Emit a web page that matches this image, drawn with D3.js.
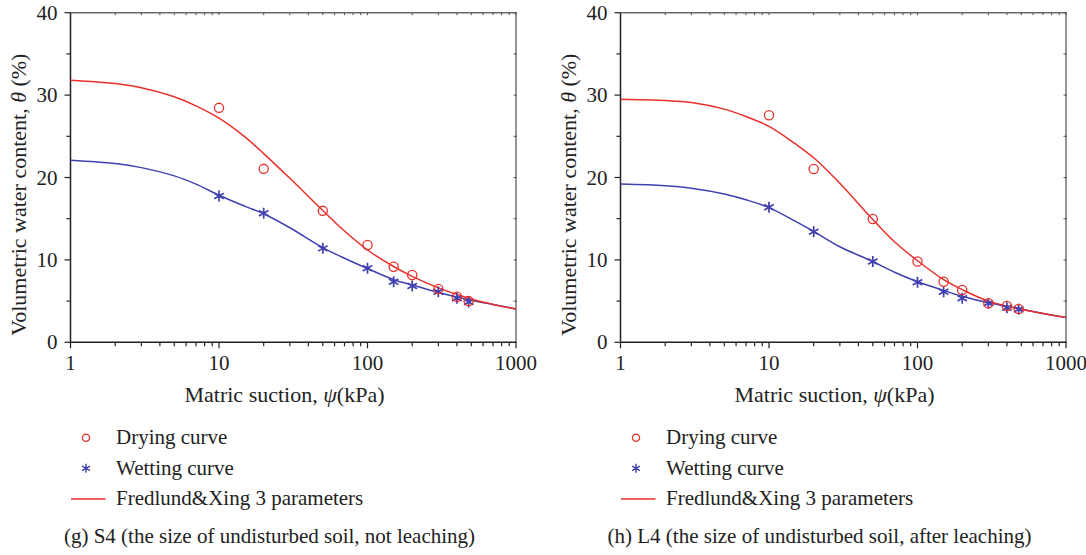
<!DOCTYPE html>
<html>
<head>
<meta charset="utf-8">
<script src="https://cdn.jsdelivr.net/npm/d3@7"></script>
<style>
  body { margin: 0; background: #fff; }
  svg { display: block; font-family: "Liberation Serif", "DejaVu Serif", serif; }
</style>
</head>
<body>
<div id="graph"></div>
<script>
// measured suction values (kPa)
var suction = [10, 20, 50, 100, 150, 200, 300, 400, 480];

// S4, not leaching
var dryS4 = [28.45, 21.05, 15.95, 11.8, 9.17, 8.17, 6.47, 5.53, 5.0];
var wetS4 = [17.75, 15.65, 11.4, 8.98, 7.35, 6.83, 6.14, 5.34, 4.9];

// L4, after leaching
var dryL4 = [27.55, 21.03, 14.96, 9.8, 7.35, 6.35, 4.73, 4.4, 4.04];
var wetL4 = [16.38, 13.42, 9.8, 7.28, 6.14, 5.34, 4.73, 4.2, 4.0];

// fitted curves (Fredlund & Xing)
var fitSuction = [1, 2, 3, 5, 7, 10, 15, 20, 30, 50, 70, 100, 150, 200, 300, 500, 700, 1000];
var fitDryS4 = [31.8, 31.4, 30.9, 29.8, 28.7, 27.2, 24.9, 22.9, 19.9, 16.0, 13.5, 11.2, 9.2, 8.0, 6.6, 5.25, 4.6, 4.05];
var fitWetS4 = [22.1, 21.7, 21.2, 20.2, 19.2, 17.85, 16.5, 15.6, 13.9, 11.5, 10.2, 8.95, 7.6, 6.95, 6.05, 5.1, 4.6, 4.05];
var fitDryL4 = [29.5, 29.35, 29.1, 28.3, 27.4, 26.2, 24.1, 22.4, 19.3, 14.9, 12.2, 9.9, 7.6, 6.4, 5.0, 4.0, 3.5, 3.0];
var fitWetL4 = [19.2, 19.0, 18.7, 18.0, 17.3, 16.35, 14.7, 13.45, 11.6, 9.8, 8.5, 7.35, 6.3, 5.6, 4.8, 4.05, 3.5, 3.0];

var xDomain = [1, 1000];
var xTicks = [1, 10, 100, 1000];
var yDomain = [0, 40];
var yTicks = [0, 10, 20, 30, 40];

var legendLabels = ["Drying curve", "Wetting curve", "Fredlund&Xing 3 parameters"];
var captions = [
  "(g) S4 (the size of undisturbed soil, not leaching)",
  "(h) L4 (the size of undisturbed soil, after leaching)"
];

var red = "#e8302a";
var blue = "#4040b0";

var width = 1086;
var height = 555;

var svg = d3.select("#graph")
  .append("svg")
    .attr("width", width)
    .attr("height", height);

function asterisk(r) {
  var t = r / 2;
  var u = t * Math.sqrt(3);
  return "M0," + r + "L0," + (-r) +
         "M" + (-u) + "," + (-t) + "L" + u + "," + t +
         "M" + (-u) + "," + t + "L" + u + "," + (-t);
}

function drawPanel(left, dry, wet, fitDry, fitWet, caption) {
  var top = 12.7;
  var bottom = 342.3;
  var plotW = 445.5;

  var x = d3.scaleLog().domain(xDomain).range([0, plotW]);
  var y = d3.scaleLinear().domain(yDomain).range([bottom - top, 0]);

  var g = svg.append("g")
    .attr("transform", "translate(" + left + "," + top + ")");

  var h = bottom - top;

  // mirror frame (top + right), grey with small inward ticks
  g.append("path")
    .attr("d", "M0,0H" + plotW + "V" + h)
    .attr("fill", "none")
    .attr("stroke", "#6a6a6a")
    .attr("stroke-width", 1.4);

  var minorX = [];
  for (var dec = 1; dec < 1000; dec *= 10) {
    for (var k = 2; k <= 9; k++) minorX.push(dec * k);
  }
  var minorY = [5, 15, 25, 35];

  g.append("g").selectAll("line")
    .data(minorX.concat(xTicks))
    .join("line")
      .attr("x1", function (d) { return x(d); })
      .attr("x2", function (d) { return x(d); })
      .attr("y1", 0)
      .attr("y2", 2.5)
      .attr("stroke", "#555")
      .attr("stroke-width", 1);

  g.append("g").selectAll("line")
    .data(minorY.concat(yTicks))
    .join("line")
      .attr("x1", plotW - 2.5)
      .attr("x2", plotW + 1)
      .attr("y1", function (d) { return y(d); })
      .attr("y2", function (d) { return y(d); })
      .attr("stroke", "#555")
      .attr("stroke-width", 1);

  // bottom axis
  var xAxis = g.append("g")
    .attr("transform", "translate(0," + h + ")");
  xAxis.append("line")
    .attr("x1", 0).attr("x2", plotW)
    .attr("stroke", "#222").attr("stroke-width", 1.5);
  xAxis.selectAll(".minor")
    .data(minorX)
    .join("line")
      .attr("class", "minor")
      .attr("x1", function (d) { return x(d); })
      .attr("x2", function (d) { return x(d); })
      .attr("y1", 0).attr("y2", 4)
      .attr("stroke", "#222").attr("stroke-width", 1.2);
  xAxis.selectAll(".major")
    .data(xTicks)
    .join("line")
      .attr("class", "major")
      .attr("x1", function (d) { return x(d); })
      .attr("x2", function (d) { return x(d); })
      .attr("y1", 0).attr("y2", 6)
      .attr("stroke", "#222").attr("stroke-width", 1.2);
  xAxis.selectAll("text")
    .data(xTicks)
    .join("text")
      .attr("x", function (d) { return x(d); })
      .attr("y", 28)
      .attr("text-anchor", "middle")
      .attr("font-size", 21)
      .attr("fill", "#222")
      .text(function (d) { return d; });

  // left axis
  var yAxis = g.append("g");
  yAxis.append("line")
    .attr("y1", 0).attr("y2", h)
    .attr("stroke", "#222").attr("stroke-width", 1.5);
  yAxis.selectAll(".minor")
    .data(minorY)
    .join("line")
      .attr("class", "minor")
      .attr("y1", function (d) { return y(d); })
      .attr("y2", function (d) { return y(d); })
      .attr("x1", 0).attr("x2", -4)
      .attr("stroke", "#222").attr("stroke-width", 1.2);
  yAxis.selectAll(".major")
    .data(yTicks)
    .join("line")
      .attr("class", "major")
      .attr("y1", function (d) { return y(d); })
      .attr("y2", function (d) { return y(d); })
      .attr("x1", 0).attr("x2", -6)
      .attr("stroke", "#222").attr("stroke-width", 1.2);
  yAxis.selectAll("text")
    .data(yTicks)
    .join("text")
      .attr("x", -13)
      .attr("y", function (d) { return y(d); })
      .attr("dy", "0.34em")
      .attr("text-anchor", "end")
      .attr("font-size", 21)
      .attr("fill", "#222")
      .text(function (d) { return d; });

  // axis titles
  var xt = g.append("text")
    .attr("x", 214)
    .attr("y", 389)
    .attr("text-anchor", "middle")
    .attr("font-size", 22)
    .attr("fill", "#222");
  xt.append("tspan").text("Matric suction, ");
  xt.append("tspan").attr("font-style", "italic").text("ψ");
  xt.append("tspan").text("(kPa)");

  var yt = g.append("text")
    .attr("transform", "translate(-44.5," + 182 + ") rotate(-90)")
    .attr("text-anchor", "middle")
    .attr("font-size", 22)
    .attr("fill", "#222");
  yt.append("tspan").text("Volumetric water content, ");
  yt.append("tspan").attr("font-style", "italic").text("θ");
  yt.append("tspan").text(" (%)");

  // fitted curves
  var line = d3.line()
    .x(function (d) { return x(d[0]); })
    .y(function (d) { return y(d[1]); })
    .curve(d3.curveCatmullRom.alpha(0.5));

  g.append("path")
    .datum(d3.zip(fitSuction, fitWet))
    .attr("d", line)
    .attr("fill", "none")
    .attr("stroke", blue)
    .attr("stroke-width", 1.5);

  g.append("path")
    .datum(d3.zip(fitSuction, fitDry))
    .attr("d", line)
    .attr("fill", "none")
    .attr("stroke", red)
    .attr("stroke-width", 1.5);

  // measured points
  g.append("g").selectAll("path")
    .data(d3.zip(suction, wet))
    .join("path")
      .attr("transform", function (d) { return "translate(" + x(d[0]) + "," + y(d[1]) + ")"; })
      .attr("d", asterisk(5.5))
      .attr("stroke", blue)
      .attr("stroke-width", 1.7);

  g.append("g").selectAll("circle")
    .data(d3.zip(suction, dry))
    .join("circle")
      .attr("cx", function (d) { return x(d[0]); })
      .attr("cy", function (d) { return y(d[1]); })
      .attr("r", 4.6)
      .attr("fill", "none")
      .attr("stroke", red)
      .attr("stroke-width", 1.3);

  // legend
  var lg = g.append("g").attr("transform", "translate(0," + (437.7 - top) + ")");
  lg.append("circle")
    .attr("cx", 15.5).attr("cy", 0).attr("r", 3.6)
    .attr("fill", "none").attr("stroke", red).attr("stroke-width", 1.3);
  lg.append("path")
    .attr("transform", "translate(15.5,30.6)")
    .attr("d", asterisk(4.5))
    .attr("stroke", blue).attr("stroke-width", 1.4);
  lg.append("line")
    .attr("x1", 0.5).attr("x2", 35).attr("y1", 61.3).attr("y2", 61.3)
    .attr("stroke", red).attr("stroke-width", 1.4);
  lg.selectAll("text")
    .data(legendLabels)
    .join("text")
      .attr("x", 45.5)
      .attr("y", function (d, i) { return i * 30.6 + 6.5; })
      .attr("font-size", 21)
      .attr("fill", "#222")
      .text(function (d) { return d; });

  g.append("text")
    .attr("x", 199)
    .attr("y", 543 - top)
    .attr("text-anchor", "middle")
    .attr("font-size", 21)
    .attr("fill", "#222")
    .text(caption);
}

drawPanel(70.5, dryS4, wetS4, fitDryS4, fitWetS4, captions[0]);
drawPanel(620.5, dryL4, wetL4, fitDryL4, fitWetL4, captions[1]);
</script>
</body>
</html>
